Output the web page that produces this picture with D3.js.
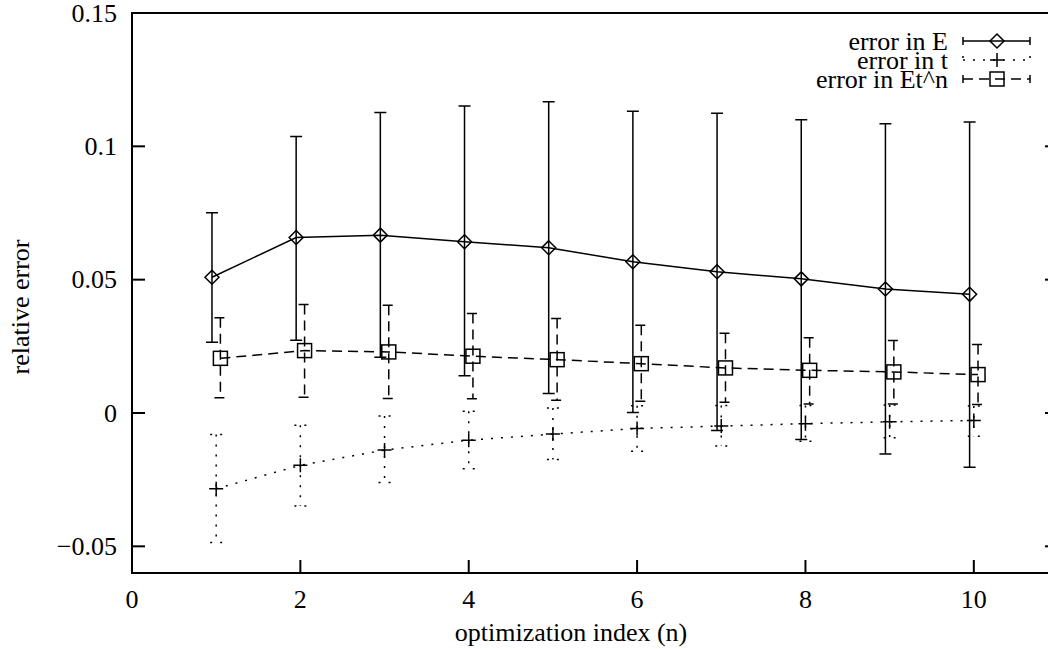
<!DOCTYPE html>
<html><head><meta charset="utf-8">
<script src="https://cdn.jsdelivr.net/npm/d3@7"></script>
<style>
html,body{margin:0;padding:0;background:#fff;}
svg{display:block;}
</style></head>
<body><svg id="c" width="1048" height="649"></svg>
<script>
const idx = [1,2,3,4,5,6,7,8,9,10];
// error in E (diamonds), plotted at n-0.05
const eVal = [0.0509,0.0658,0.0667,0.0642,0.0620,0.0567,0.0530,0.0503,0.0465,0.0445];
const eLow = [0.0265,0.0273,0.0209,0.0140,0.0073,0.0002,-0.0066,-0.0099,-0.0154,-0.0203];
const eHigh= [0.0751,0.1037,0.1127,0.1151,0.1167,0.1132,0.1124,0.1100,0.1085,0.1091];
// error in t (plus), plotted at n
const tVal = [-0.0284,-0.0196,-0.0139,-0.0102,-0.0079,-0.0058,-0.0049,-0.0040,-0.0033,-0.0028];
const tLow = [-0.0486,-0.0349,-0.0261,-0.0209,-0.0174,-0.0143,-0.0124,-0.0106,-0.0093,-0.0087];
const tHigh= [-0.0081,-0.0046,-0.0011,0.0007,0.0019,0.0027,0.0028,0.0028,0.0030,0.0026];
// error in Et^n (squares), plotted at n+0.05
const sVal = [0.0205,0.0234,0.0229,0.0213,0.0200,0.0185,0.0169,0.0160,0.0154,0.0144];
const sLow = [0.0057,0.0059,0.0054,0.0053,0.0048,0.0044,0.0040,0.0034,0.0034,0.0032];
const sHigh= [0.0357,0.0407,0.0404,0.0373,0.0354,0.0329,0.0299,0.0282,0.0272,0.0257];
const xTicks = [0,2,4,6,8,10];
const yTicks = [-0.05,0,0.05,0.1,0.15];
const yTickLabels = ["\u22120.05","0","0.05","0.1","0.15"];
const legendLabels = ["error in E","error in t","error in Et^n"];
const xTitle = "optimization index (n)";
const yTitle = "relative error";

const FONT = '"Liberation Serif"';
const svg = d3.select("#c");
const L=132, R=1058, T=13, B=573;
const x = d3.scaleLinear().domain([0,11]).range([L,R]);
const y = d3.scaleLinear().domain([-0.06,0.15]).range([B,T]);
const FS = 26;
function txt(){ return svg.append("text").style("font-family",FONT).style("font-size",FS+"px").attr("fill","#000"); }

svg.append("path").attr("d",`M${R},${T}H${L}V${B}H${R}`).attr("fill","none").attr("stroke","#000").attr("stroke-width",2);
const TL=13;
xTicks.forEach(v=>{
  svg.append("line").attr("x1",x(v)).attr("x2",x(v)).attr("y1",B).attr("y2",B-TL).attr("stroke","#000").attr("stroke-width",2);
  txt().attr("x",x(v)).attr("y",608).attr("text-anchor","middle").text(v);
});
yTicks.forEach((v,i)=>{
  svg.append("line").attr("x1",L).attr("x2",L+TL).attr("y1",y(v)).attr("y2",y(v)).attr("stroke","#000").attr("stroke-width",2);
  svg.append("line").attr("x1",R).attr("x2",R-TL).attr("y1",y(v)).attr("y2",y(v)).attr("stroke","#000").attr("stroke-width",2);
  txt().attr("x",117).attr("y",y(v)+8.5).attr("text-anchor","end").text(yTickLabels[i]);
});
txt().attr("x",571).attr("y",641).attr("text-anchor","middle").text(xTitle);
txt().attr("transform","translate(29,307) rotate(-90)").attr("text-anchor","middle").text(yTitle);

const series = [
  {off:-0.05, val:eVal, lo:eLow, hi:eHigh, dash:null, mark:"diamond"},
  {off:0, val:tVal, lo:tLow, hi:tHigh, dash:"2,8", mark:"plus"},
  {off:0.05, val:sVal, lo:sLow, hi:sHigh, dash:"10,6", mark:"square"}
];
function drawMark(g,cx,cy,m){
  if(m==="diamond") g.append("path").attr("d",`M${cx},${cy-7}L${cx+7},${cy}L${cx},${cy+7}L${cx-7},${cy}Z`);
  else if(m==="square") g.append("rect").attr("x",cx-7).attr("y",cy-7).attr("width",14).attr("height",14);
  else g.append("path").attr("d",`M${cx-7},${cy}H${cx+7}M${cx},${cy-7}V${cy+7}`);
}
series.forEach(s=>{
  const g = svg.append("g").attr("fill","none").attr("stroke","#000").attr("stroke-width",1.5);
  if(s.dash) g.attr("stroke-dasharray",s.dash);
  idx.forEach((n,i)=>{
    const cx=x(n+s.off);
    g.append("path").attr("d",`M${cx-6},${y(s.hi[i])}H${cx+6}M${cx},${y(s.hi[i])}V${y(s.lo[i])}M${cx-6},${y(s.lo[i])}H${cx+6}`);
  });
  const line = d3.line().x((d,i)=>x(idx[i]+s.off)).y(d=>y(d));
  g.append("path").attr("d",line(s.val));
  const gm = svg.append("g").attr("fill","none").attr("stroke","#000").attr("stroke-width",1.5);
  idx.forEach((n,i)=>drawMark(gm,x(n+s.off),y(s.val[i]),s.mark));
});

const ly=[41,60,79];
series.forEach((s,i)=>{
  txt().attr("x",948).attr("y",ly[i]+8.5).attr("text-anchor","end").text(legendLabels[i]);
  const g = svg.append("g").attr("fill","none").attr("stroke","#000").attr("stroke-width",1.5);
  if(s.dash) g.attr("stroke-dasharray",s.dash);
  g.append("path").attr("d",`M963,${ly[i]-4}V${ly[i]+4}M963,${ly[i]}H1030M1030,${ly[i]-4}V${ly[i]+4}`);
  const gm = svg.append("g").attr("fill","none").attr("stroke","#000").attr("stroke-width",1.5);
  drawMark(gm,997,ly[i],s.mark);
});
</script></body></html>
